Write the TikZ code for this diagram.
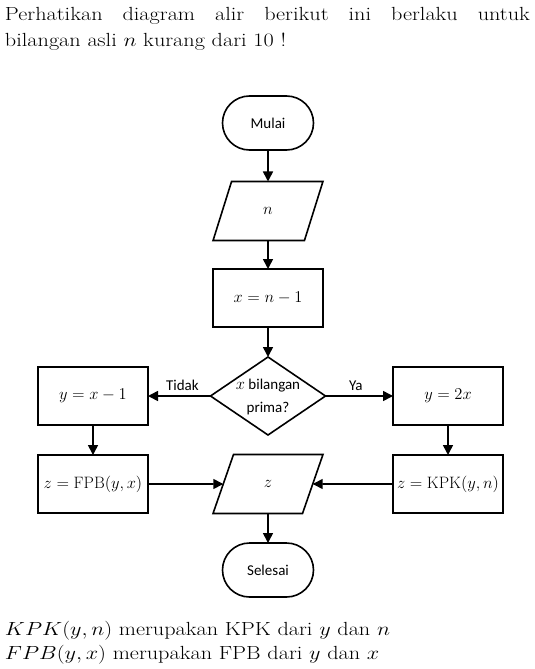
\documentclass[tikz,border=0pt]{standalone}
\usepackage{fontspec}
\usepackage{graphicx}
\DeclareFontFamily{OML}{cmm}{\skewchar\font127 }
\DeclareFontShape{OML}{cmm}{m}{it}{<-12>cmmi10 <12->cmmi12}{}
\DeclareFontShape{OT1}{cmr}{m}{n}{<-12>cmr10 <12-17>cmr12 <17->cmr17}{}
\DeclareFontFamily{OMS}{cmsy}{\skewchar\font48 }
\DeclareFontShape{OMS}{cmsy}{m}{n}{<->cmsy10}{}
\newfontfamily\nodefont{Carlito}
\usetikzlibrary{shapes.geometric,shapes.misc,arrows.meta}
\begin{document}
\begin{tikzpicture}[x=1pt,y=-1pt,
  every node/.style={inner sep=0pt, outer sep=0pt},
  nf/.style={font=\nodefont\fontsize{15}{23}\selectfont},
  mf/.style={font=\nodefont\fontsize{16.5}{23}\selectfont},
  box/.style={mf, draw, line width=1.6pt, minimum width=110pt, minimum height=58pt},
  term/.style={nf, draw, rounded rectangle, line width=1.6pt, minimum width=91pt, minimum height=54pt},
  io/.style={mf, draw, trapezium, trapezium left angle=71, trapezium right angle=109, trapezium stretches=true, minimum width=110pt, minimum height=59pt, line width=1.6pt},
  dec/.style={draw, diamond, minimum width=115pt, minimum height=78pt, line width=1.6pt},
  arr/.style={-{Triangle[length=10pt,width=10pt]}, line width=1.6pt},
  lbl/.style={nf},
  txt/.style={font=\fontsize{19}{24}\selectfont, anchor=base west}
]
\useasboundingbox (0,0) rectangle (535,669);
\node[txt] (t1) at (5,21) {\scalebox{1.17}[1]{\makebox[448.7pt][s]{Perhatikan diagram alir berikut ini berlaku untuk}}};
\node[txt] (t2) at (5,47) {\scalebox{1.17}[1]{bilangan asli $n$ kurang dari 10 !}};

\node[term] (mulai) at (268,123) {Mulai};
\node[io] (nin) at (268,211) {$n$};
\node[box] (xn) at (268,298) {$x = n - 1$};
\node[dec] (prima) at (268,396) {};
\node[nf, align=center] (primat) at (268,397) {{\fontsize{16.5}{23}\selectfont$x$} bilangan\\prima?};
\node[box] (yx) at (93,396) {$y = x - 1$};
\node[box] (y2x) at (448,396) {$y = 2x$};
\node[box] (fpb) at (93,484) {$z = \mathrm{FPB}(y,x)$};
\node[box] (kpk) at (448,484) {$z = \mathrm{KPK}(y,n)$};
\node[io] (zout) at (268,484) {$z$};
\node[term] (selesai) at (268,570) {Selesai};

\draw[arr] (mulai) -- (nin);
\draw[arr] (nin) -- (xn);
\draw[arr] (xn) -- (prima);
\draw[arr] (prima) -- node[lbl, pos=0.45, above=5pt] (tidak) {Tidak} (yx);
\draw[arr] (prima) -- node[lbl, pos=0.45, above=5pt] (ya) {Ya} (y2x);
\draw[arr] (yx) -- (fpb);
\draw[arr] (y2x) -- (kpk);
\draw[arr] (fpb) -- (zout);
\draw[arr] (kpk) -- (zout);
\draw[arr] (zout) -- (selesai);

\node[txt] (b1) at (5,635) {\scalebox{1.17}[1]{$KPK(y,n)$ merupakan KPK dari $y$ dan $n$}};
\node[txt] (b2) at (5,659) {\scalebox{1.17}[1]{$FPB(y,x)$ merupakan FPB dari $y$ dan $x$}};
\end{tikzpicture}
\end{document}
